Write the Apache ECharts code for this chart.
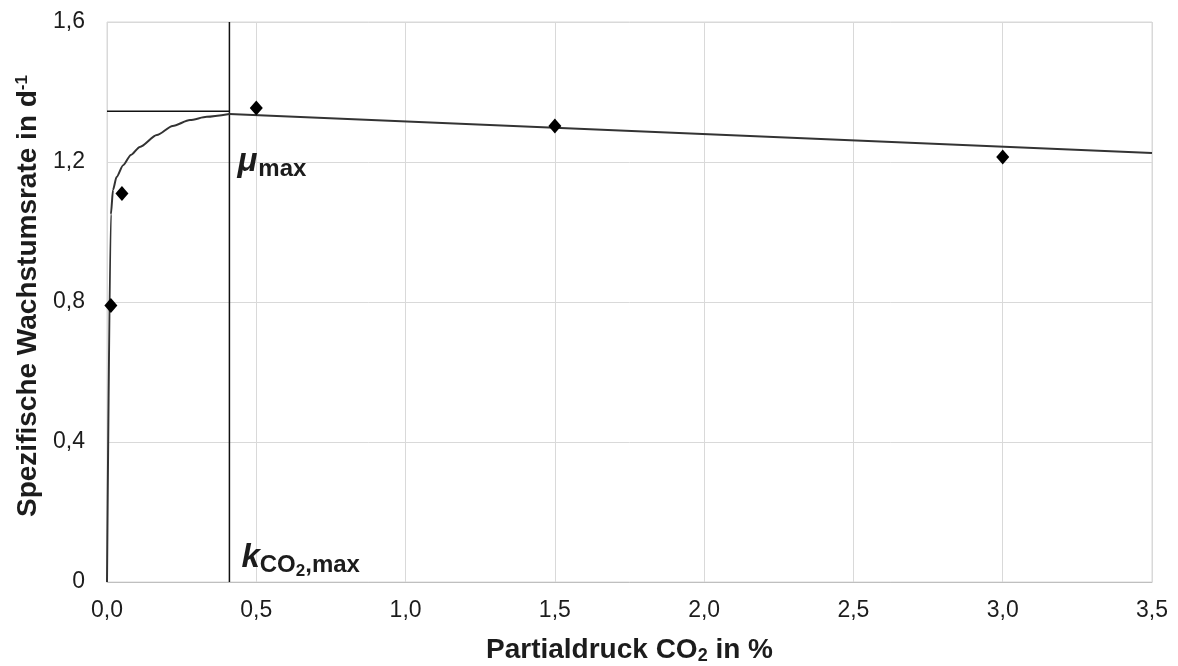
<!DOCTYPE html>
<html><head><meta charset="utf-8">
<script src="https://cdn.jsdelivr.net/npm/echarts@6/dist/echarts.min.js"></script>
<style>html,body{margin:0;padding:0;background:#fff}#c{width:1178px;height:666px}</style>
</head><body><div id="c"></div>
<script>
// Measured data points (diamonds)
const pointsX = [0.013, 0.05, 0.5, 1.5, 3.0];
const pointsY = [0.79, 1.11, 1.354, 1.303, 1.214];
// Fitted curve: rising part (curved) ...
const curveX = [0, 0.013, 0.02, 0.032, 0.054, 0.08, 0.11, 0.167, 0.22, 0.278, 0.334, 0.41];
const curveY = [0, 1.05, 1.12, 1.157, 1.191, 1.22, 1.243, 1.277, 1.303, 1.32, 1.329, 1.337];
// ... and the straight declining part
const lineX = [0.41, 3.5];
const lineY = [1.337, 1.226];
// Reference lines
const kMax = 0.41;
const muMax = 1.345;
const xTicks = [0, 0.5, 1.0, 1.5, 2.0, 2.5, 3.0, 3.5];
const yTicks = [0, 0.4, 0.8, 1.2, 1.6];

const fmtX = v => v.toFixed(1).replace('.', ',');
const fmtY = v => (v === 0 ? '0' : v.toFixed(1).replace('.', ','));
const font = 'Liberation Sans, Arial, sans-serif';
const ink = '#1c1c1c';
const chart = echarts.init(document.getElementById('c'));
chart.setOption({
  animation: false,
  backgroundColor: '#fff',
  grid: { left: 107, right: 26, top: 22, bottom: 84, show: true, borderColor: '#d9d9d9', borderWidth: 1,
          containLabel: false, outerBoundsMode: 'none' },
  xAxis: {
    type: 'value', min: 0, max: 3.5, interval: 0.5,
    axisLine: { show: true, lineStyle: { color: '#bfbfbf', width: 1 } },
    axisTick: { show: false },
    splitLine: { show: true, lineStyle: { color: '#d9d9d9', width: 1 } },
    axisLabel: { formatter: fmtX, color: ink, fontSize: 23, fontFamily: font, margin: 17 },
    name: 'Partialdruck CO{sub|2} in %', nameLocation: 'middle', nameGap: 53,
    nameTextStyle: {
      color: ink, fontSize: 28, fontWeight: 'bold', fontFamily: font,
      rich: { sub: { fontSize: 18, fontWeight: 'bold', fontFamily: font, color: ink, padding: [12, 0, 0, 0] } }
    }
  },
  yAxis: {
    type: 'value', min: 0, max: 1.6, interval: 0.4,
    axisLine: { show: false },
    axisTick: { show: false },
    splitLine: { show: true, lineStyle: { color: '#d9d9d9', width: 1 } },
    axisLabel: { formatter: fmtY, color: ink, fontSize: 23, fontFamily: font, margin: 22 },
    name: 'Spezifische Wachstumsrate in d{sup|-1}', nameLocation: 'middle', nameGap: 64, nameRotate: 90,
    nameTextStyle: {
      color: ink, fontSize: 28, fontWeight: 'bold', fontFamily: font, padding: [0, 0, 0, 12],
      rich: { sup: { fontSize: 17, fontWeight: 'bold', fontFamily: font, color: ink, padding: [0, 0, 12, 0] } }
    }
  },
  series: [
    {
      type: 'line', data: curveX.map((x, i) => [x, curveY[i]]),
      smooth: 0.25, smoothMonotone: 'x', showSymbol: false,
      lineStyle: { color: '#333', width: 2 }, z: 3
    },
    {
      type: 'line', data: lineX.map((x, i) => [x, lineY[i]]), showSymbol: false,
      lineStyle: { color: '#333', width: 2 }, z: 3
    },
    {
      type: 'line', data: [[kMax, 0], [kMax, 1.6]], showSymbol: false,
      lineStyle: { color: '#111', width: 1.5 }, z: 2
    },
    {
      type: 'line', data: [[0, muMax], [kMax, muMax]], showSymbol: false,
      lineStyle: { color: '#111', width: 1.5 }, z: 2
    },
    {
      type: 'scatter', data: pointsX.map((x, i) => [x, pointsY[i]]),
      symbol: 'diamond', symbolSize: [13, 15],
      itemStyle: { color: '#000', opacity: 1 }, z: 5
    },
    {
      type: 'scatter', symbolSize: 0, silent: true, itemStyle: { opacity: 1 },
      data: [
        { value: [kMax, 1.2], label: { show: true, position: 'right', distance: 8,
          formatter: '{mu|μ}{sub|max}',
          rich: {
            mu: { fontSize: 33, fontWeight: 'bold', fontStyle: 'italic', fontFamily: font, color: ink },
            sub: { fontSize: 24, fontWeight: 'bold', fontFamily: font, color: ink, padding: [14, 0, 0, 1] }
          } } },
        { value: [kMax, 0.07], label: { show: true, position: 'right', distance: 12,
          formatter: '{k|k}{sub|CO}{sub2|2}{sub|,max}',
          rich: {
            k: { fontSize: 33, fontWeight: 'bold', fontStyle: 'italic', fontFamily: font, color: ink },
            sub: { fontSize: 24, fontWeight: 'bold', fontFamily: font, color: ink, padding: [16, 0, 0, 0] },
            sub2: { fontSize: 17, fontWeight: 'bold', fontFamily: font, color: ink, padding: [28, 0, 0, 0] }
          } } }
      ]
    }
  ]
});
</script></body></html>
